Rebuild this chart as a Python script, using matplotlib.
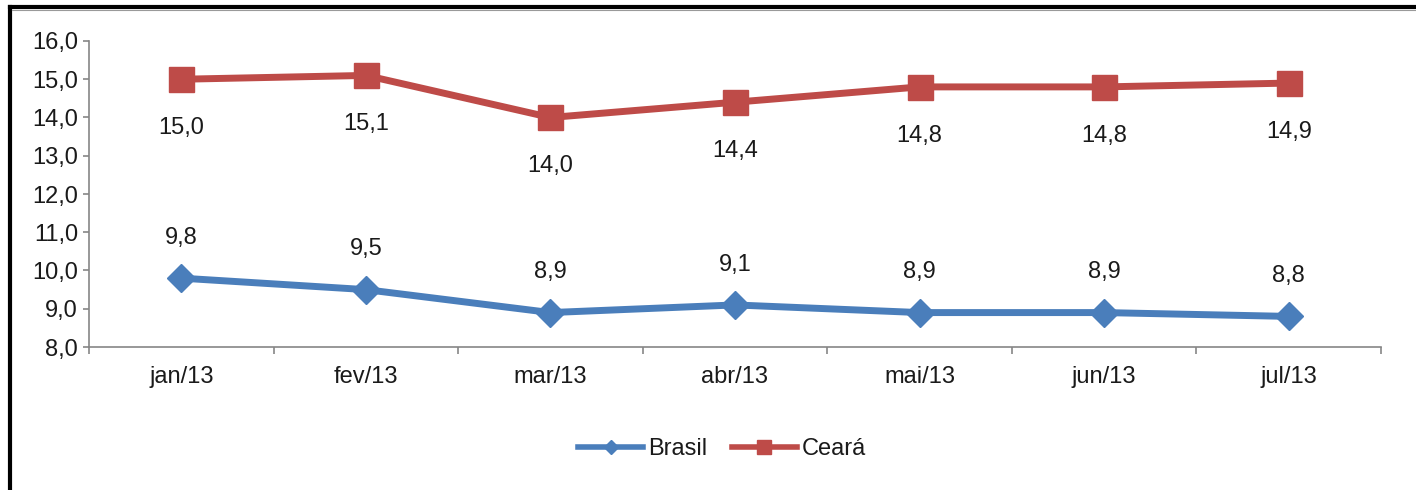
import matplotlib.pyplot as plt
from matplotlib.lines import Line2D

# monthly rates, Brasil vs Ceará
months = ["jan/13", "fev/13", "mar/13", "abr/13", "mai/13", "jun/13", "jul/13"]
brasil = [9.8, 9.5, 8.9, 9.1, 8.9, 8.9, 8.8]
ceara = [15.0, 15.1, 14.0, 14.4, 14.8, 14.8, 14.9]

blue = "#4A7EBB"
red = "#BE4B48"
axis_gray = "#868686"

plt.rcParams["font.family"] = ["Liberation Sans", "DejaVu Sans"]

fig = plt.figure(figsize=(14.16, 4.9), dpi=100)
ax = fig.add_axes([89 / 1416, 1 - 347 / 490, (1381 - 89) / 1416, (347 - 41) / 490])

x = range(len(months))
ax.plot(x, ceara, color=red, lw=5, marker="s", ms=18, solid_capstyle="round", zorder=3)
ax.plot(x, brasil, color=blue, lw=5, marker="D", ms=14, solid_capstyle="round", zorder=3)

def fmt(v):
    return f"{v:.1f}".replace(".", ",")

for i, v in enumerate(ceara):
    ax.annotate(fmt(v), (i, v), xytext=(0, -35), textcoords="offset points",
                ha="center", va="center", fontsize=17, color="#1a1a1a")
for i, v in enumerate(brasil):
    ax.annotate(fmt(v), (i, v), xytext=(0, 29), textcoords="offset points",
                ha="center", va="center", fontsize=17, color="#1a1a1a")

ax.set_xlim(-0.5, len(months) - 0.5)
ax.set_ylim(8, 16)
ax.set_yticks(range(8, 17))
ax.set_yticklabels([fmt(v) for v in range(8, 17)])
ax.set_xticks(x)
ax.set_xticklabels(months)
ax.set_xticks([i - 0.5 for i in range(len(months) + 1)], minor=True)

for side in ["top", "right"]:
    ax.spines[side].set_visible(False)
for side in ["left", "bottom"]:
    ax.spines[side].set_color(axis_gray)
    ax.spines[side].set_linewidth(1.2)

ax.tick_params(axis="y", length=4, width=1.2, color=axis_gray, pad=4, labelsize=17,
               labelcolor="#1a1a1a")
ax.tick_params(axis="x", which="major", length=0, pad=14, labelsize=17, labelcolor="#1a1a1a")
ax.tick_params(axis="x", which="minor", length=5, width=1.2, color=axis_gray)

handles = [
    Line2D([], [], color=blue, lw=4, marker="D", ms=7),
    Line2D([], [], color=red, lw=4, marker="s", ms=10),
]
fig.legend(handles, ["Brasil", "Ceará"], loc="center", bbox_to_anchor=(0.51, 1 - 449 / 490),
           ncol=2, frameon=False, fontsize=17, handlelength=2.75, columnspacing=1.05,
           handletextpad=0.2, labelcolor="#1a1a1a")

# frame edges left and top, with a thin grey rule under the top edge
fig.add_artist(Line2D([10 / 1416, 10 / 1416], [0, 1 - 7 / 490], color="black", lw=3,
                      transform=fig.transFigure))
fig.add_artist(Line2D([10 / 1416, 1], [1 - 7 / 490, 1 - 7 / 490], color="black", lw=3,
                      transform=fig.transFigure))
fig.add_artist(Line2D([12 / 1416, 1], [1 - 10 / 490, 1 - 10 / 490], color="#9a9a9a", lw=0.8,
                      transform=fig.transFigure))

fig.savefig("out.png", dpi=100)
